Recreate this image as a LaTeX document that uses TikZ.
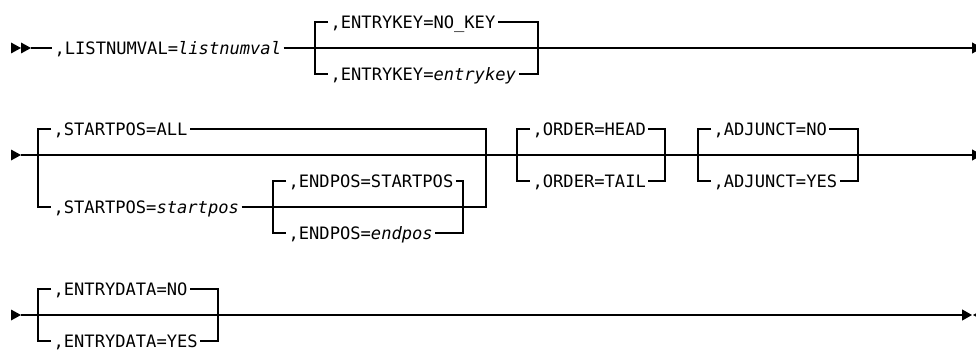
\documentclass[tikz,border=0pt]{standalone}
\usepackage{fontspec}
\setmonofont{DejaVu Sans Mono}
\usetikzlibrary{arrows.meta}
\newcommand{\synvar}[1]{\textit{#1}}

\begin{document}
\begin{tikzpicture}[x=1pt,y=-1pt,line width=1.2pt,
  kw/.style={anchor=west,inner sep=0pt,inner xsep=2pt,text height=12.5pt,
    text depth=0pt,font=\ttfamily\fontsize{17.1}{20}\selectfont},
  tip/.style={-{Triangle[length=10pt,width=11pt]}}]
  \useasboundingbox (0,0) rectangle (976,350);
  \clip (0,0) rectangle (976,350);

  % row 1
  \fill (11,42.5) -- (21,48) -- (11,53.5) -- cycle;
  \fill (21,42.5) -- (31,48) -- (21,53.5) -- cycle;
  \coordinate (r1s) at (31,48);
  \node[kw] (lnv) at (52,48) {,LISTNUMVAL=\synvar{listnumval}};
  \coordinate (ekL) at (315,48);
  \coordinate (ekR) at (538,48);
  \coordinate (r1e) at (982,48);
  \node[kw] (eknokey) at (328,22) {,ENTRYKEY=NO\_KEY};
  \node[kw] (ekval) at (328,74) {,ENTRYKEY=\synvar{entrykey}};
  \draw (r1s) -- (lnv.west);
  \draw[tip] (lnv.east) -- (r1e);
  \draw (eknokey.west) -| (ekL) |- (ekval.west);
  \draw (eknokey.east) -| (ekR) |- (ekval.east);

  % row 2
  \fill (11,149.5) -- (21,155) -- (11,160.5) -- cycle;
  \coordinate (r2s) at (21,155);
  \coordinate (spL) at (38,155);
  \coordinate (spR) at (486,155);
  \node[kw] (spall) at (51,129) {,STARTPOS=ALL};
  \node[kw] (spval) at (51,207) {,STARTPOS=\synvar{startpos}};
  \coordinate (epL) at (273,207);
  \coordinate (epR) at (463,207);
  \node[kw] (epdef) at (286,181) {,ENDPOS=STARTPOS};
  \node[kw] (epval) at (286,233) {,ENDPOS=\synvar{endpos}};
  \coordinate (ordL) at (517,155);
  \coordinate (ordR) at (665,155);
  \node[kw] (ordhead) at (530,129) {,ORDER=HEAD};
  \node[kw] (ordtail) at (530,181) {,ORDER=TAIL};
  \coordinate (adjL) at (698,155);
  \coordinate (adjR) at (858,155);
  \node[kw] (adjno) at (711,129) {,ADJUNCT=NO};
  \node[kw] (adjyes) at (711,181) {,ADJUNCT=YES};
  \coordinate (r2e) at (982,155);
  \draw[tip] (r2s) -- (r2e);
  \draw (spall.west) -| (spL) |- (spval.west);
  \draw (spval.east) -- (epL) -- (epR);
  \draw (spall.east) -| (spR) |- (epR);
  \draw (epdef.west) -| (epL) |- (epval.west);
  \draw (epdef.east) -| (epR) |- (epval.east);
  \draw (ordhead.west) -| (ordL) |- (ordtail.west);
  \draw (ordhead.east) -| (ordR) |- (ordtail.east);
  \draw (adjno.west) -| (adjL) |- (adjyes.west);
  \draw (adjno.east) -| (adjR) |- (adjyes.east);

  % row 3
  \fill (11,309.5) -- (21,315) -- (11,320.5) -- cycle;
  \coordinate (r3s) at (21,315);
  \coordinate (edL) at (38,315);
  \coordinate (edR) at (218,315);
  \coordinate (r3e) at (972,315);
  \node[kw] (edno) at (51,289) {,ENTRYDATA=NO};
  \node[kw] (edyes) at (51,341) {,ENTRYDATA=YES};
  \draw[tip] (r3s) -- (r3e);
  \draw (edno.west) -| (edL) |- (edyes.west);
  \draw (edno.east) -| (edR) |- (edyes.east);
  \fill (983,309.5) -- (973,315) -- (983,320.5) -- cycle;
\end{tikzpicture}
\end{document}
